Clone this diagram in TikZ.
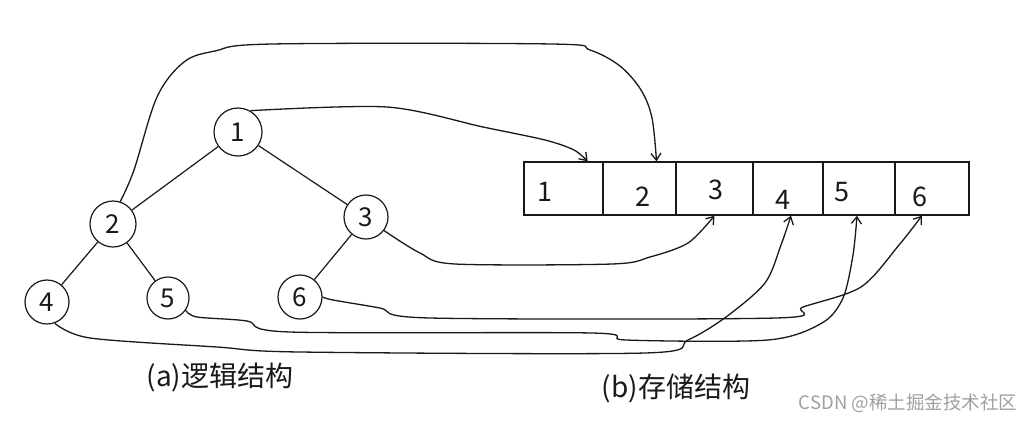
\documentclass[tikz,border=0pt]{standalone}
\usepackage{fontspec}
\newfontfamily\cjk{Noto Sans CJK SC}
\usetikzlibrary{arrows.meta}
\definecolor{ink}{RGB}{25,25,25}
\definecolor{wm}{RGB}{160,160,160}
\begin{document}
\begin{tikzpicture}[x=1pt,y=-1pt,
  tnode/.style={circle, draw=ink, line width=1.2pt, inner sep=0pt, text=ink, font=\cjk\fontsize{26}{26}\selectfont},
  cell/.style={rectangle, draw=ink, line width=1.3pt, minimum height=53pt, inner sep=0pt},
  digit/.style={inner sep=0pt, text=ink, font=\cjk\fontsize{27}{27}\selectfont},
  treeedge/.style={draw=ink, line width=1.2pt},
  conn/.style={draw=ink, line width=1.3pt, -{Straight Barb[length=7pt,width=10pt]}},
  caption/.style={inner sep=0pt, text=ink, font=\cjk\fontsize{28}{28}\selectfont}]
\useasboundingbox (0,0) rectangle (1021,424);
\fill[white] (0,0) rectangle (1021,424);

% tree
\node[tnode, minimum size=48pt] (n1) at (238,132) {1};
\node[tnode, minimum size=46pt] (n2) at (113,224) {2};
\node[tnode, minimum size=44pt] (n3) at (366,217) {3};
\node[tnode, minimum size=44pt] (n4) at (47,302) {4};
\node[tnode, minimum size=42pt] (n5) at (168,298) {5};
\node[tnode, minimum size=44pt] (n6) at (300,297) {6};
\draw[treeedge] (n1) -- (n2);
\draw[treeedge] (n1) -- (n3);
\draw[treeedge] (n2) -- (n4);
\draw[treeedge] (n2) -- (n5);
\draw[treeedge] (n3) -- (n6);

% array
\node[cell, minimum width=79pt] (c1) at (563.5,188.5) {};
\node[cell, minimum width=73pt] (c2) at (639.5,188.5) {};
\node[cell, minimum width=77pt] (c3) at (714.5,188.5) {};
\node[cell, minimum width=70pt] (c4) at (788,188.5) {};
\node[cell, minimum width=72pt] (c5) at (859,188.5) {};
\node[cell, minimum width=74pt] (c6) at (932,188.5) {};
\node[digit] (d1) at (545,192) {1};
\node[digit] (d2) at (643,197) {2};
\node[digit] (d3) at (716,190) {3};
\node[digit] (d4) at (783,200) {4};
\node[digit] (d5) at (842,192) {5};
\node[digit] (d6) at (920,197) {6};

% connectors
\draw[conn] plot[smooth, tension=0.5] coordinates {(n1.60) (387,107) (483,127) (545,140) (574,150) ([xshift=-16pt]c1.north east)};
\draw[conn] plot[smooth, tension=0.55] coordinates {(n2.72) (134,170) (157,97) (184,62) (215,51) (272,44) (552,44) (590,50) (620,66) (641,90) (652,118) ([xshift=17pt]c2.north)};
\draw[conn] plot[smooth, tension=0.5] coordinates {(n3.-37) (420,253) (455,264) (612,264) (650,257) (688,243) (c3.south)};
\draw[conn] plot[smooth, tension=0.5] coordinates {(n4.-70) (90,338) (217,347) (300,352) (645,353) (688,340) (726,317) (765,283) (781,245) ([xshift=3pt]c4.south)};
\draw[conn] plot[smooth, tension=0.5] coordinates {(n5.-35) (197,317) (247,321) (290,332) (592,333) (626,340) (768,340) (822,323) (843,298) (853,255) ([xshift=-2pt]c5.south)};
\draw[conn] plot[smooth, tension=0.5] coordinates {(n6.east) (333,300) (380,308) (430,318) (776,318) (803,307) (861,287) (899,245) ([xshift=-10pt]c6.south)};

% captions
\node[caption] (capa) at (220,377) {(a)逻辑结构};
\node[caption] (capb) at (676,388) {(b)存储结构};
\node[inner sep=0pt, text=wm, font=\cjk\fontsize{18.5}{18.5}\selectfont] (wmk) at (908,403) {CSDN @稀土掘金技术社区};
\end{tikzpicture}
\end{document}
